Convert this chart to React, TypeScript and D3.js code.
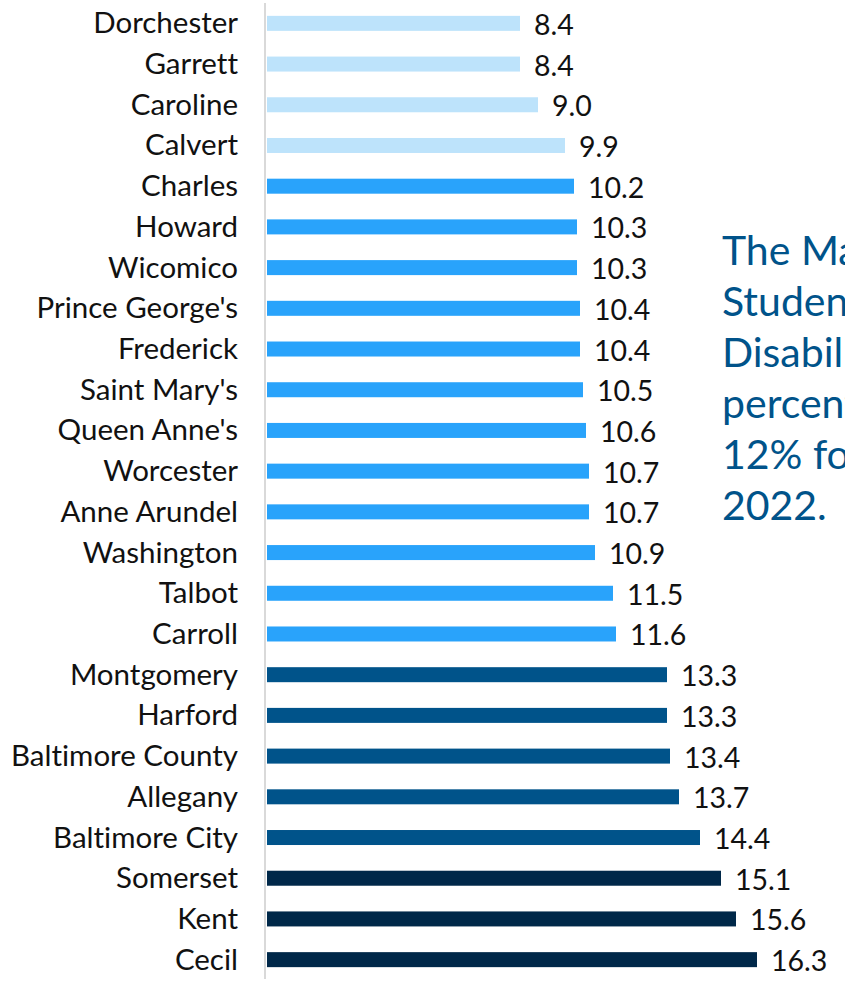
import React, { useEffect, useRef } from "react";
import * as d3 from "d3";

const counties = [
  "Dorchester", "Garrett", "Caroline", "Calvert", "Charles", "Howard", "Wicomico",
  "Prince George's", "Frederick", "Saint Mary's", "Queen Anne's", "Worcester",
  "Anne Arundel", "Washington", "Talbot", "Carroll", "Montgomery", "Harford",
  "Baltimore County", "Allegany", "Baltimore City", "Somerset", "Kent", "Cecil",
];
const percents = [
  8.4, 8.4, 9.0, 9.9, 10.2, 10.3, 10.3, 10.4, 10.4, 10.5, 10.6, 10.7,
  10.7, 10.9, 11.5, 11.6, 13.3, 13.3, 13.4, 13.7, 14.4, 15.1, 15.6, 16.3,
];
const noteLines = [
  "The Maryland", "Students with", "Disabilities", "percentage was", "12% for the", "2022.",
];

const W = 845;
const H = 981;

export default function App() {
  const ref = useRef<SVGSVGElement>(null);

  useEffect(() => {
    const svg = d3.select(ref.current);
    const data = counties.map((c, i) => ({ county: c, value: percents[i] }));

    const x = d3.scaleLinear().domain([0, 1]).range([268, 298]);
    const y = d3.scaleBand().domain(counties).range([3, 980]);
    const color = d3.scaleThreshold<number, string>()
      .domain([10, 12, 15])
      .range(["#bde3fb", "#29a3fb", "#00538a", "#002849"]);
    const barH = 15;
    const font = "Lato, 'Open Sans', sans-serif";

    // axis line
    svg.append("line")
      .attr("x1", 265).attr("x2", 265)
      .attr("y1", 3).attr("y2", 979)
      .attr("stroke", "#d9d9d9").attr("stroke-width", 2);

    const rows = svg.selectAll(".row").data(data).enter().append("g")
      .attr("class", "row")
      .attr("transform", d => `translate(0,${y(d.county)! + y.bandwidth() / 2})`);

    rows.append("rect")
      .attr("x", x(0) - 1)
      .attr("y", -barH / 2)
      .attr("width", d => x(d.value) - x(0) + 1)
      .attr("height", barH)
      .attr("fill", d => color(d.value));

    rows.append("text")
      .attr("x", 238)
      .attr("y", 10)
      .attr("text-anchor", "end")
      .attr("font-family", font)
      .attr("font-size", 29.5)
      .style("font-variant-ligatures", "none")
      .attr("fill", "#111")
      .text(d => d.county);

    rows.append("text")
      .attr("x", d => x(d.value) + 14)
      .attr("y", 11.5)
      .attr("font-family", font)
      .attr("font-size", 28.5)
      .attr("fill", "#111")
      .text(d => d.value.toFixed(1));

    svg.append("g").selectAll("text").data(noteLines).enter().append("text")
      .attr("x", 722)
      .attr("y", (d, i) => 265 + i * 51)
      .attr("font-family", font)
      .attr("font-size", 41)
      .attr("fill", "#00538a")
      .text(d => d);

    return () => {
      svg.selectAll("*").remove();
    };
  }, []);

  return (
    <svg
      ref={ref}
      width={W}
      height={H}
      style={{ position: "absolute", left: 0, top: 0, overflow: "hidden", background: "#fff" }}
    />
  );
}
